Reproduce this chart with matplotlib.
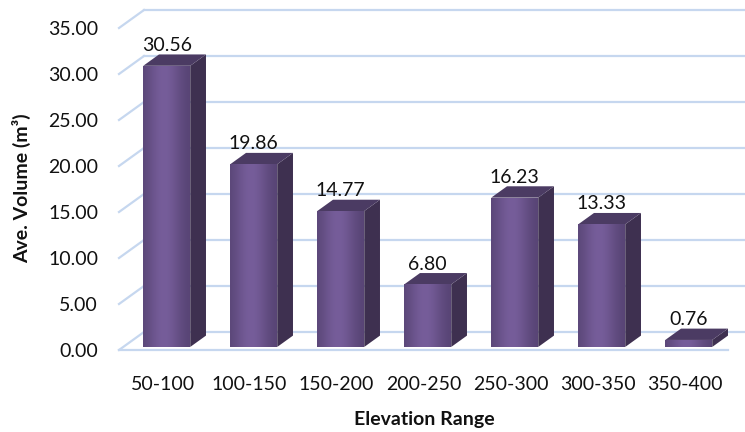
import numpy as np
import matplotlib.pyplot as plt
from matplotlib.patches import Polygon, Rectangle

plt.rcParams['font.family'] = ['Lato', 'DejaVu Sans']

ranges = ['50-100', '100-150', '150-200', '200-250', '250-300', '300-350', '350-400']
volumes = [30.56, 19.86, 14.77, 6.80, 16.23, 13.33, 0.76]
yticks = np.arange(0, 40, 5)

W, H = 745, 432
fig = plt.figure(figsize=(W / 100, H / 100), dpi=100)
ax = fig.add_axes([119 / W, 82 / H, 609 / W, 322 / H])
ax.set_xlim(-0.5, 6.5)
ax.set_ylim(0, 35)

# depth of the 3d box, converted from pixels into data units
px_x = 609 / 7.0
px_y = 322 / 35.0
DX, DY = 25 / px_x, 18 / px_y

grid_c = '#C6D7EF'
for v in yticks:
    ax.plot([-0.5, -0.5 + DX], [v, v + DY], color=grid_c, lw=1.6, clip_on=False, zorder=1)
    ax.plot([-0.5 + DX, 6.5 + DX + 0.3], [v + DY, v + DY], color=grid_c, lw=1.6,
            clip_on=False, zorder=1)
ax.plot([-0.5, 6.5], [0, 0], color=grid_c, lw=1.6, clip_on=False, zorder=1)

# front face shading: light in the middle, darker to the edges
light = np.array([0x76, 0x5D, 0x9A]) / 255
dark = np.array([0x54, 0x41, 0x70]) / 255
t = np.linspace(0, 1, 64)
f = np.exp(-((t - 0.45) / 0.38) ** 2)
grad = (dark[None, :] * (1 - f[:, None]) + light[None, :] * f[:, None])[None, :, :]

w = 0.54
d0, d1 = 0.17, 0.80
bdx, bdy = (d1 - d0) * DX, (d1 - d0) * DY
for i, v in enumerate(volumes):
    x0 = i - w / 2 + d0 * DX
    x1 = i + w / 2 + d0 * DX
    y0 = d0 * DY
    top = v + d0 * DY
    side = Polygon([(x1, y0), (x1 + bdx, y0 + bdy), (x1 + bdx, top + bdy), (x1, top)],
                   closed=True, fc='#3E3050', ec='none', zorder=3)
    cap = Polygon([(x0, top), (x1, top), (x1 + bdx, top + bdy), (x0 + bdx, top + bdy)],
                  closed=True, fc='#4B3B63', ec='none', zorder=3)
    ax.add_patch(side)
    ax.add_patch(cap)
    face = Rectangle((x0, y0), x1 - x0, top - y0, fc='none', ec='none')
    ax.add_patch(face)
    im = ax.imshow(grad, extent=[x0, x1, y0, top], aspect='auto', zorder=4,
                   interpolation='bilinear')
    im.set_clip_path(face)
    ax.annotate(f'{v:.2f}', (i + d0 * DX, top + bdy), xytext=(0, 2.5),
                textcoords='offset points', ha='center', va='baseline',
                fontsize=14, color='#111111', zorder=5)

ax.set_xlim(-0.5, 6.5)
ax.set_ylim(0, 35)
for s in ax.spines.values():
    s.set_visible(False)
ax.set_yticks(yticks, [f'{v:.2f}' for v in yticks])
ax.set_xticks(range(len(ranges)), ranges)
ax.tick_params(axis='y', length=0, pad=15, labelsize=14, labelcolor='#111111')
ax.tick_params(axis='x', length=0, pad=19, labelsize=14, labelcolor='#111111')

fig.text(424 / W, 1 - 420 / H, 'Elevation Range', ha='center', va='center',
         fontsize=14, fontweight='bold', color='#111111')
fig.text(22 / W, 1 - 188 / H, 'Ave. Volume (m³)', ha='center', va='center',
         rotation=90, fontsize=14, fontweight='bold', color='#111111')

fig.savefig('out.png', dpi=100)
